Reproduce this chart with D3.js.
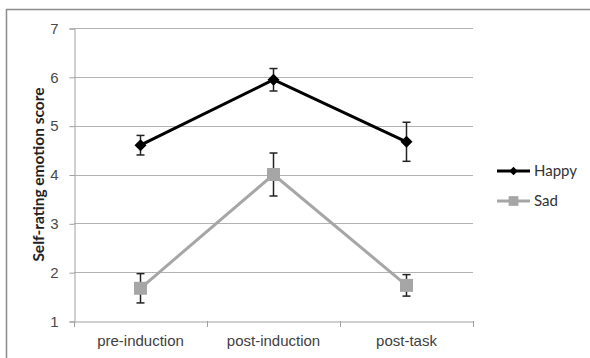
<!DOCTYPE html>
<html>
<head>
<meta charset="utf-8">
<script src="https://cdn.jsdelivr.net/npm/d3@7"></script>
<style>
body { margin: 0; background: #fff; }
svg { display: block; font-family: Lato, "Open Sans", sans-serif; }
</style>
</head>
<body>
<div id="chart"></div>
<script>
var categories = ["pre-induction", "post-induction", "post-task"];
var happy = [4.6, 5.94, 4.67];
var happyErr = [0.2, 0.23, 0.4];
var sad = [1.67, 4.0, 1.73];
var sadErr = [0.3, 0.44, 0.22];
var yTicks = [1, 2, 3, 4, 5, 6, 7];

var width = 590, height = 358;
var plotLeft = 74, plotRight = 473, plotTop = 28, plotBottom = 321;

var svg = d3.select("#chart").append("svg")
	.attr("width", width)
	.attr("height", height);

// outer frame (top and left only visible)
svg.append("path")
	.attr("d", "M6.5," + height + "V9.5H" + width)
	.attr("fill", "none")
	.attr("stroke", "#8c8c8c")
	.attr("stroke-width", 1.5);

var x = d3.scaleBand().domain(categories).range([plotLeft, plotRight]);
var y = d3.scaleLinear().domain([1, 7]).range([plotBottom, plotTop]);

// gridlines
svg.append("g")
	.selectAll("line")
	.data(yTicks.slice(1))
	.join("line")
	.attr("x1", plotLeft)
	.attr("x2", plotRight)
	.attr("y1", function(d) { return Math.round(y(d)) + 0.5; })
	.attr("y2", function(d) { return Math.round(y(d)) + 0.5; })
	.attr("stroke", "#b3b3b3");

// y axis
var yAxis = svg.append("g")
	.attr("transform", "translate(" + (plotLeft + 0.5) + ",0.5)")
	.call(d3.axisLeft(y).tickValues(yTicks).tickSize(5).tickPadding(11).tickFormat(d3.format("d")));
yAxis.select(".domain").attr("stroke", "#a0a0a0");
yAxis.selectAll(".tick line").attr("stroke", "#a0a0a0");
yAxis.selectAll("text").attr("font-size", 15).attr("fill", "#4a4a4a");

// x axis
var xAxis = svg.append("g")
	.attr("transform", "translate(0," + (Math.round(plotBottom) + 0.5) + ")")
	.call(d3.axisBottom(x).tickSize(0).tickPadding(14));
xAxis.select(".domain").attr("stroke", "#a0a0a0");
xAxis.selectAll("text").attr("font-size", 15).attr("fill", "#404040");
// category dividers
svg.append("g")
	.selectAll("line")
	.data(categories.concat(["end"]))
	.join("line")
	.attr("x1", function(d, i) { return Math.round(plotLeft + i * x.step()) + 0.5; })
	.attr("x2", function(d, i) { return Math.round(plotLeft + i * x.step()) + 0.5; })
	.attr("y1", plotBottom)
	.attr("y2", plotBottom + 6)
	.attr("stroke", "#a0a0a0");

// y title
svg.append("text")
	.attr("transform", "translate(44," + ((plotTop + plotBottom) / 2) + ") rotate(-90)")
	.attr("text-anchor", "middle")
	.attr("font-size", 15.5)
	.attr("font-weight", "bold")
	.attr("fill", "#222")
	.text("Self-rating emotion score");

var cx = function(d, i) { return x(categories[i]) + x.bandwidth() / 2; };

function drawSeries(values, errs, color, marker) {
	var g = svg.append("g");
	g.append("path")
		.datum(values)
		.attr("d", d3.line().x(cx).y(function(d) { return y(d); }))
		.attr("fill", "none")
		.attr("stroke", color)
		.attr("stroke-width", 3);

	var bars = g.selectAll(".err")
		.data(values)
		.join("g");
	bars.append("line")
		.attr("x1", cx).attr("x2", cx)
		.attr("y1", function(d, i) { return y(d - errs[i]); })
		.attr("y2", function(d, i) { return y(d + errs[i]); })
		.attr("stroke", "#222").attr("stroke-width", 1.5);
	[1, -1].forEach(function(s) {
		bars.append("line")
			.attr("x1", function(d, i) { return cx(d, i) - 4; })
			.attr("x2", function(d, i) { return cx(d, i) + 4; })
			.attr("y1", function(d, i) { return y(d + s * errs[i]); })
			.attr("y2", function(d, i) { return y(d + s * errs[i]); })
			.attr("stroke", "#222").attr("stroke-width", 1.5);
	});

	g.selectAll(".mk")
		.data(values)
		.join("path")
		.attr("transform", function(d, i) { return "translate(" + cx(d, i) + "," + y(d) + ")"; })
		.attr("d", marker)
		.attr("fill", color);
}

var diamond = "M0,-6L6,0L0,6L-6,0Z";
var square = "M-6.5,-6.5H6.5V6.5H-6.5Z";
drawSeries(happy, happyErr, "#000", diamond);
drawSeries(sad, sadErr, "#a6a6a6", square);

// legend
var legend = [
	{ name: "Happy", color: "#000", marker: diamond, y: 171 },
	{ name: "Sad", color: "#a6a6a6", marker: square, y: 201 }
];
var lg = svg.append("g").selectAll("g").data(legend).join("g")
	.attr("transform", function(d) { return "translate(497," + d.y + ")"; });
lg.append("line").attr("x1", 0).attr("x2", 33)
	.attr("stroke", function(d) { return d.color; }).attr("stroke-width", 3);
lg.append("path")
	.attr("transform", function(d) { return "translate(16.5,0) scale(" + (d.name == "Sad" ? 0.75 : 0.7) + ")"; })
	.attr("d", function(d) { return d.marker; })
	.attr("fill", function(d) { return d.color; });
lg.append("text").attr("x", 37).attr("dy", "0.35em")
	.attr("font-size", 15).attr("fill", "#333")
	.text(function(d) { return d.name; });
</script>
</body>
</html>
